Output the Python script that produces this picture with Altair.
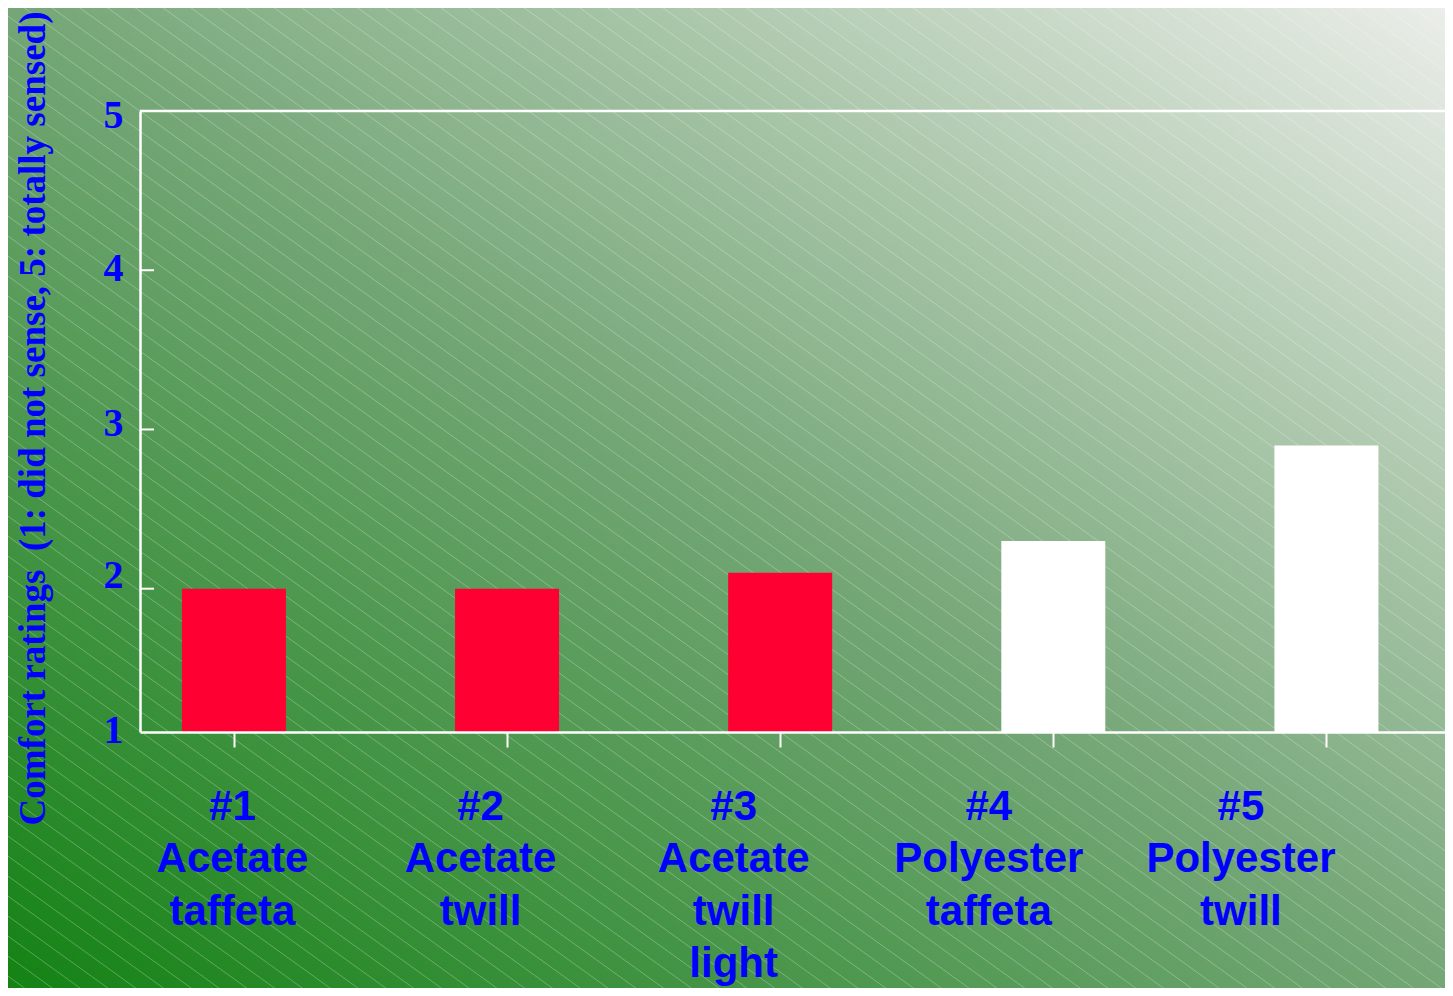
import altair as alt
import numpy as np
import pandas as pd

# ---------------- data ----------------
categories = [
    "#1|Acetate|taffeta",
    "#2|Acetate|twill",
    "#3|Acetate|twill|light",
    "#4|Polyester|taffeta",
    "#5|Polyester|twill",
]
ratings = [2.0, 2.0, 2.1, 2.3, 2.9]
fibers = ["Acetate", "Acetate", "Acetate", "Polyester", "Polyester"]
y_tick_values = [2, 3, 4]
y_label_values = [1.1, 2, 3, 4, 5]
y_title = "Comfort ratings\u00a0 (1: did not sense, 5: totally sensed)"

# ---------------- layout ----------------
W, H = 1305, 621
PAD_L, PAD_T, PAD_R, PAD_B = 132, 103, 0, 256
BLUE = "#0000FF"

df = pd.DataFrame({"cat": categories, "rating": ratings, "fiber": fibers})
one = pd.DataFrame({"a": [0]})

# background gradient
bg = alt.Chart(one).mark_rect(
    fill=alt.LinearGradient(
        gradient="linear",
        stops=[
            alt.GradientStop(color="#138213", offset=0),
            alt.GradientStop(color="#74a676", offset=0.5),
            alt.GradientStop(color="#eceeea", offset=1),
        ],
        x1=0, y1=1, x2=1, y2=0,
    )
).encode(
    x=alt.value(-PAD_L), x2=alt.value(W + PAD_R + 10),
    y=alt.value(-PAD_T), y2=alt.value(H + PAD_B + 10),
)

# decorative diagonal hatching
slope = 0.72
xl, xr = -PAD_L, W + PAD_R + 10
cs = np.arange(-PAD_T - slope * xr - 30, H + PAD_B - slope * xl + 30, 20.0)
hatch_df = pd.DataFrame({
    "hx1": xl, "hx2": xr,
    "hy1": cs + slope * xl, "hy2": cs + slope * xr,
})
hatch = alt.Chart(hatch_df).mark_rule(color="white", strokeWidth=0.8, opacity=0.35).encode(
    x=alt.X("hx1:Q", scale=None, axis=None),
    x2="hx2:Q",
    y=alt.Y("hy1:Q", scale=None, axis=None),
    y2="hy2:Q",
)

x_offsets = [-2, -27, -47, -65, -86]
x_cond = [{"test": f"datum.value == '{c}'", "value": o} for c, o in zip(categories, x_offsets)]
y_offsets = {1.1: -2, 2: -13, 3: -6, 4: -2, 5: 4}
y_cond = [{"test": f"abs(datum.value - {v}) < 0.01", "value": o} for v, o in y_offsets.items()]

x_enc = alt.X(
    "cat:N", sort=categories,
    scale=alt.Scale(type="point", padding=0.389, align=0.442),
    axis=alt.Axis(
        title=None, labelAngle=0, zindex=1,
        labelExpr="split(datum.label, '|')",
        labelFont="Liberation Sans", labelFontWeight="bold", labelFontSize=42,
        labelColor=BLUE, labelLineHeight=52.5, labelBaseline="top",
        labelPadding=39, labelLimit=0, labelOverlap=False,
        labelOffset={"condition": x_cond, "value": 0},
        domainColor="white", domainWidth=2.5,
        tickColor="white", tickWidth=2, tickSize=15,
        grid=False,
    ),
)
y_scale = alt.Scale(domain=[1.1, 5], zero=False, nice=False)
y_enc = alt.Y(
    "rating:Q", scale=y_scale,
    axis=alt.Axis(
        values=y_label_values, zindex=1,
        labelExpr="datum.value < 1.5 ? '1' : format(datum.value, 'd')",
        labelFont="Liberation Serif", labelFontWeight="bold", labelFontSize=40,
        labelColor=BLUE, labelPadding=17,
        labelOffset={"condition": y_cond, "value": 0},
        ticks=False, grid=False,
        domainColor="white", domainWidth=2.5,
        title=y_title, titleFont="Liberation Serif", titleFontWeight="bold",
        titleFontSize=37, titleColor=BLUE, titleLimit=0,
        titleAngle=270, titleAlign="center", titleBaseline="middle",
        titleX=-107, titleY=307,
    ),
)

bars = alt.Chart(df).mark_bar(size=104).encode(
    x=x_enc,
    y=y_enc,
    y2=alt.datum(1.1),
    color=alt.Color(
        "fiber:N",
        scale=alt.Scale(domain=["Acetate", "Polyester"], range=["#FF0033", "#FFFFFF"]),
        legend=None,
    ),
)

yticks = alt.Chart(pd.DataFrame({"v": y_tick_values})).mark_rule(color="white", strokeWidth=2).encode(
    y=alt.Y("v:Q"), x=alt.value(0), x2=alt.value(14)
)

topline = alt.Chart(one).mark_rule(color="white", strokeWidth=2.5).encode(
    y=alt.value(0), x=alt.value(0), x2=alt.value(W + 10)
)

inner = alt.layer(bars, yticks, topline)

chart = alt.layer(bg, hatch, inner).resolve_scale(
    x="independent", y="independent"
).properties(
    width=W, height=H,
    autosize=alt.AutoSizeParams(type="none"),
    padding={"left": PAD_L, "top": PAD_T, "right": PAD_R, "bottom": PAD_B},
    background="white",
).configure_view(stroke=None)

chart.save("out.html", embed_options={"renderer": "svg", "actions": False})
